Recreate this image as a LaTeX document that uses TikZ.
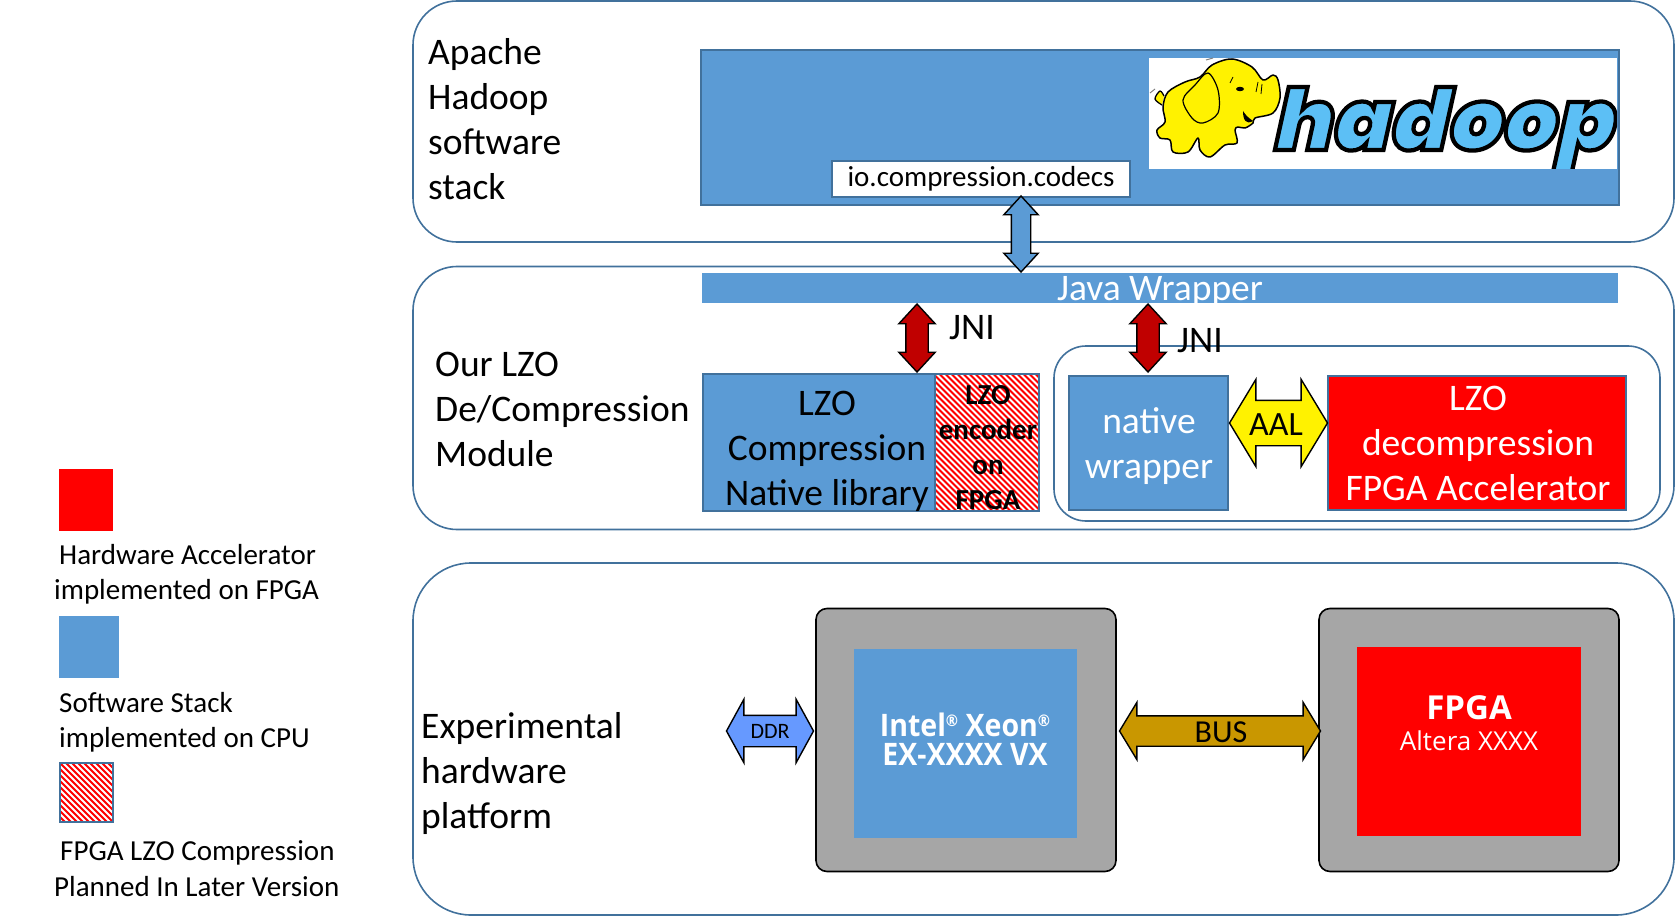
\documentclass[tikz,border=0pt]{standalone}
\usepackage{fontspec}
\usetikzlibrary{shapes.arrows}
\setmainfont{Carlito}
\newfontfamily\openb{Open Sans}[UprightFont=* Bold,FakeStretch=0.92]
\newfontfamily\openbp{Open Sans}[UprightFont=* Bold]
\newfontfamily\openr{Open Sans}
\newfontfamily\hadoopfont{Poppins}[UprightFont=* Black,FakeSlant=0.22,FakeBold=5]
\definecolor{swblue}{HTML}{5B9BD5}
\definecolor{edgeblue}{HTML}{41719C}
\definecolor{darkred}{HTML}{C00000}
\definecolor{busgold}{HTML}{C99700}
\definecolor{ddrblue}{HTML}{6699FF}
\definecolor{chipgrey}{HTML}{A6A6A6}
\definecolor{logoblue}{HTML}{5CBFF5}
\newcommand{\fs}[2]{\fontsize{#1}{#2}\selectfont}
\tikzset{
  layer/.style={draw=edgeblue,line width=1.6pt,fill=white,rounded corners=#1,inner sep=0pt,outer sep=0pt,anchor=north west},
  solidbox/.style={fill=#1,draw=edgeblue,line width=1.6pt,inner sep=0pt,outer sep=0pt,anchor=north west},
  plainbox/.style={fill=#1,inner sep=0pt,outer sep=0pt,anchor=north west},
  chip/.style={fill=chipgrey,draw=black,line width=1.6pt,rounded corners=11pt,inner sep=0pt,outer sep=0pt,anchor=north west},
  hatchbox/.style={fill=red,draw=edgeblue,line width=1.6pt,inner sep=0pt,outer sep=0pt,anchor=north west,
    path picture={\foreach \k in {-222,-216,...,222}{
      \draw[white,line width=2.1pt] ([shift={(\k-200,-200)}]path picture bounding box.center) -- ([shift={(\k+200,200)}]path picture bounding box.center);}}},
  dbl/.style n args={4}{shape=double arrow,inner sep=#2,outer sep=0pt,
    double arrow head extend=#1-#2,double arrow tip angle={2*atan(#1/#3)},
    fill=#4,draw=black,line width=1.4pt},
  big/.style={font=\fs{37.5}{45},align=left,anchor=west,inner sep=0pt},
  bigc/.style={font=\fs{37.5}{45},align=center,inner sep=0pt},
  legend/.style={font=\fs{29}{35},anchor=west,inner sep=0pt},
}
\begin{document}
\begin{tikzpicture}[x=1pt,y=-1pt]
\useasboundingbox (0,0) rectangle (1676,920);
% layers
\node[layer=44pt,minimum width=1261pt,minimum height=241pt] (stack) at (413,1) {};
\node[layer=44pt,minimum width=1261pt,minimum height=263pt] (module) at (413,266.5) {};
\node[layer=58pt,minimum width=1261pt,minimum height=352pt] (platform) at (413,563) {};
\node[layer=32pt,minimum width=606pt,minimum height=175pt] (group) at (1054,346) {};
% hadoop
\node[solidbox=swblue,minimum width=918pt,minimum height=155pt] (hadoopbar) at (701,50) {};
\node[plainbox=white,minimum width=468pt,minimum height=111pt] (logo) at (1149,58) {};
\begin{scope}
\clip (1149,58) rectangle (1617,169);
\node[anchor=base,inner sep=0pt,font=\hadoopfont\fs{85}{85},text=logoblue] (hadoopword) at (1441,150) {\special{pdf:code 0 0 0 RG}hadoop};
\draw[black,line width=1.3pt,fill=yellow,line join=round] plot[smooth,tension=.55] coordinates {
  (1162,105) (1155,99) (1160,91) (1164,96)};
\draw[black,line width=1.5pt,fill=yellow,line join=round] plot[smooth cycle,tension=.55] coordinates {
  (1232,59) (1252,67) (1263,80) (1273,75) (1278,80) (1280,98) (1273,113) (1255,118) (1253,123) (1245,128) (1238,127) (1235,130) (1237,143) (1225,145) (1210,157) (1200,150) (1198,138) (1188,152) (1173,152) (1170,140) (1160,138) (1157,130) (1165,122) (1163,107) (1168,92) (1185,82) (1200,77) (1212,65)};
\draw[black,line width=1.2pt,fill=yellow,line join=round] plot[smooth cycle,tension=.55] coordinates {
  (1208,73) (1218,90) (1218,113) (1203,123) (1192,118) (1183,100) (1195,85)};
\fill[black] (1240,89) ellipse (4pt and 2.2pt);
\draw[black,line width=.8pt] (1258,82) -- (1256,92) (1262,84) -- (1261,94) (1233,77) -- (1230,83);
\fill[black] (1243,111) .. controls (1243,120) and (1246,125) .. (1253,121) .. controls (1249,118) and (1246,116) .. (1243,111) -- cycle;
\draw[gray,line width=1pt] (1206,60) -- (1213,58) (1150,93) -- (1155,89);
\end{scope}
\node[solidbox=white,minimum width=298pt,minimum height=36pt] (codecs) at (832,161) {};
\node[inner sep=0pt,font=\fs{29}{33}] (codecstext) at (981,179) {io.compression.codecs};
% module boxes
\node[plainbox=swblue,minimum width=916pt,minimum height=30pt] (java) at (702,273) {};
\node[inner sep=0pt,font=\fs{37.5}{45},text=white] (javatext) at (1160,291) {Java Wrapper};
\node[solidbox=swblue,minimum width=232pt,minimum height=137pt] (native) at (703,374) {};
\node[hatchbox,minimum width=104pt,minimum height=137pt] (encoder) at (935,374) {};
\node[bigc] (nativetext) at (827,451) {LZO\\Compression\\Native library};
\node[inner sep=0pt,align=center,font=\bfseries\fs{29}{35}] (encodertext) at (988,448) {LZO\\encoder\\on\\FPGA};
\node[solidbox=swblue,minimum width=159pt,minimum height=134pt] (wrapper) at (1069,376) {};
\node[bigc,text=white] (wrappertext) at (1149,446) {native\\wrapper};
\node[solidbox=red,minimum width=298pt,minimum height=134pt] (decomp) at (1328,376) {};
\node[bigc,text=white] (decomptext) at (1478,443) {LZO\\decompression\\FPGA Accelerator};
% labels
\node[big] (l1) at (428,119) {Apache\\Hadoop\\software\\stack};
\node[big] (l2) at (435,409) {Our LZO\\De/Compression\\Module};
\node[big] (l3) at (421,773) {Experimental\\hardware\\platform};
% arrows
\node[dbl={16.5pt}{9pt}{18}{swblue},rotate=90,minimum height=76pt] (a1) at (1021,234) {};
\node[dbl={17.5pt}{10.5pt}{19}{darkred},rotate=90,minimum height=68pt] (a2) at (917,338) {};
\node[dbl={17.5pt}{10.5pt}{19}{darkred},rotate=90,minimum height=68pt] (a3) at (1148,338) {};
\node[inner sep=0pt,font=\fs{37.5}{45}] (jni1) at (972,328) {JNI};
\node[inner sep=0pt,font=\fs{37.5}{45}] (jni2) at (1200,341) {JNI};
\node[dbl={43pt}{22pt}{26}{yellow},minimum height=98pt] (aal) at (1278.5,423) {};
\node[inner sep=0pt,font=\fs{34}{40}] (aaltext) at (1276,425) {AAL};
% platform
\node[chip,minimum width=300pt,minimum height=263pt] (cpu) at (816,608.5) {};
\node[plainbox=swblue,minimum width=223pt,minimum height=189pt] (xeon) at (854,649) {};
\node[inner sep=0pt,align=center,text=white,font=\openb\fs{31}{29}] (xeontext) at (965,739) {Intel\raisebox{10pt}{\fs{16}{16}®} Xeon\raisebox{10pt}{\fs{16}{16}®}\\EX-XXXX VX};
\node[chip,minimum width=300pt,minimum height=263pt] (fpga) at (1319,608.5) {};
\node[plainbox=red,minimum width=224pt,minimum height=189pt] (fpgacore) at (1357,647) {};
\node[inner sep=0pt,text=white,font=\openbp\fs{33}{36}] (fpgatext) at (1469,708) {FPGA};
\node[inner sep=0pt,text=white,font=\openr\fs{26}{30}] (alteratext) at (1469,741) {Altera XXXX};
\node[dbl={31pt}{15pt}{17}{ddrblue},minimum height=87pt] (ddr) at (770,731) {};
\node[inner sep=0pt,font=\fs{22}{26}] (ddrtext) at (770,731) {DDR};
\node[dbl={28pt}{14.5pt}{17}{busgold},minimum height=201pt] (bus) at (1220,731) {};
\node[inner sep=0pt,font=\fs{32}{38}] (bustext) at (1221,732) {BUS};
% legend
\node[plainbox=red,minimum width=54pt,minimum height=62pt] (k1) at (59,469) {};
\node[legend] (t1a) at (59,555) {Hardware Accelerator};
\node[legend] (t1b) at (54,592) {implemented on FPGA};
\node[plainbox=swblue,minimum width=60pt,minimum height=62pt] (k2) at (59,616) {};
\node[legend] (t2a) at (59,703) {Software Stack};
\node[legend] (t2b) at (59,740) {implemented on CPU};
\node[hatchbox,minimum width=53pt,minimum height=59pt] (k3) at (60,763) {};
\node[legend] (t3a) at (60,853) {FPGA LZO Compression};
\node[legend] (t3b) at (54,887) {Planned In Later Version};
\end{tikzpicture}
\end{document}
